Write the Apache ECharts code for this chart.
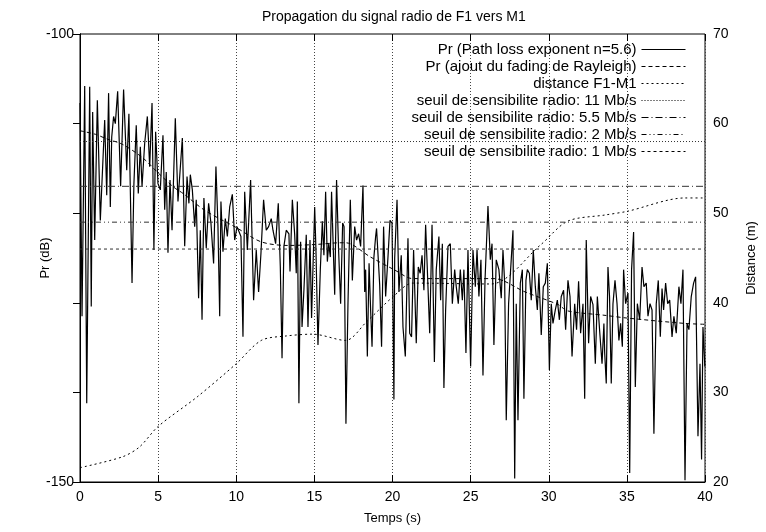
<!DOCTYPE html>
<html>
<head>
<meta charset="utf-8">
<script src="https://cdn.jsdelivr.net/npm/echarts@6/dist/echarts.min.js"></script>
<style>
html,body{margin:0;padding:0;background:#fff;}
#chart{width:766px;height:532px;}
</style>
</head>
<body>
<div id="chart"></div>
<script>
// ---- Data ----
var titleText = 'Propagation du signal radio de F1 vers M1';
var xTicks = [0, 5, 10, 15, 20, 25, 30, 35, 40];
var leftTicks = [-150, -100];
var rightTicks = [20, 30, 40, 50, 60, 70];

// Received power with Rayleigh fading [time s, dB]
var prFading = [
[0.00,-107.7],[0.13,-131.5],[0.30,-105.8],[0.43,-141.2],[0.62,-105.9],[0.72,-130.4],[0.81,-108.7],[0.94,-123.0],
[1.11,-107.4],[1.30,-120.8],[1.43,-115.6],[1.58,-109.6],[1.71,-118.0],[1.83,-106.6],[1.94,-119.3],[2.03,-111.5],
[2.15,-109.2],[2.26,-110.0],[2.41,-106.4],[2.60,-117.0],[2.79,-106.2],[2.99,-115.2],[3.13,-108.9],[3.33,-127.8],
[3.45,-116.7],[3.60,-110.2],[3.73,-117.8],[3.86,-112.6],[3.97,-117.0],[4.14,-112.2],[4.31,-109.2],[4.46,-114.8],
[4.61,-107.7],[4.73,-124.1],[4.84,-110.9],[4.99,-116.7],[5.14,-117.4],[5.31,-111.3],[5.42,-119.6],[5.52,-115.4],
[5.63,-124.4],[5.76,-116.3],[5.89,-121.9],[6.10,-109.4],[6.27,-118.7],[6.55,-111.6],[6.70,-123.7],
[6.85,-115.9],[6.97,-118.9],[7.06,-115.7],[7.19,-117.4],[7.34,-121.5],[7.44,-118.5],[7.59,-129.5],[7.70,-121.9],
[7.81,-131.9],[7.93,-118.3],[8.08,-123.9],[8.23,-118.9],[8.38,-121.1],[8.55,-125.6],[8.70,-114.8],[8.83,-121.5],
[8.94,-131.5],[9.02,-118.7],[9.15,-124.3],[9.30,-120.6],[9.43,-122.6],[9.58,-119.3],[9.75,-117.9],[9.90,-123.0],
[10.05,-121.5],[10.17,-121.7],[10.30,-122.6],[10.43,-133.8],[10.54,-117.6],[10.71,-124.1],[10.92,-116.3],[11.11,-129.7],
[11.28,-124.1],[11.43,-128.8],[11.58,-124.5],[11.75,-118.5],[11.92,-121.9],[12.07,-121.5],[12.24,-120.6],[12.35,-121.9],
[12.52,-123.4],[12.69,-118.9],[12.82,-126.0],[12.93,-136.2],[13.05,-123.7],[13.20,-121.9],[13.37,-122.3],
[13.44,-126.5],[13.59,-118.5],[13.74,-122.4],[13.84,-126.7],[13.91,-118.7],[14.01,-141.2],[14.12,-123.2],[14.21,-132.7],
[14.33,-128.6],[14.48,-122.4],[14.59,-132.7],[14.72,-123.0],[14.82,-131.7],[15.02,-119.3],[15.10,-124.1],[15.23,-134.7],
[15.38,-126.3],[15.51,-120.9],[15.61,-124.7],[15.72,-117.6],[15.83,-125.4],[15.92,-123.4],[16.02,-124.9],[16.10,-117.6],
[16.30,-129.1],[16.42,-116.3],[16.55,-124.1],[16.68,-130.1],[16.81,-121.1],[16.90,-121.5],[17.02,-143.5],[17.15,-130.1],
[17.30,-118.5],[17.43,-127.5],[17.58,-121.5],[17.70,-123.0],[17.83,-122.3],[17.96,-123.7],[18.11,-116.9],[18.22,-128.8],
[18.28,-126.3],[18.39,-136.0],[18.50,-125.6],[18.60,-130.8],[18.69,-134.9],[18.81,-124.9],[18.92,-122.6],[18.98,-121.7],
[19.18,-128.0],[19.30,-134.9],[19.43,-121.5],[19.56,-129.3],[19.71,-124.9],[19.84,-120.8],[19.97,-121.1],[20.09,-140.8],
[20.14,-125.0],[20.29,-118.5],[20.41,-128.8],[20.56,-124.7],[20.67,-132.7],[20.82,-136.0],[20.99,-122.8],[21.10,-133.4],
[21.22,-133.8],[21.35,-124.1],[21.52,-134.5],[21.65,-126.0],[21.77,-126.7],[21.89,-124.7],[22.01,-128.6],[22.12,-121.3],
[22.23,-126.3],[22.38,-133.4],[22.53,-121.3],[22.68,-136.6],[22.80,-126.3],[22.97,-122.6],[23.08,-129.7],[23.19,-123.4],
[23.29,-139.5],[23.40,-130.8],[23.55,-123.7],[23.70,-123.4],[23.83,-130.1],[23.98,-126.3],[24.08,-128.2],[24.21,-130.1],
[24.34,-126.3],[24.47,-129.7],[24.57,-126.3],[24.70,-135.6],[24.83,-124.1],[25.00,-137.1],[25.15,-124.1],[25.30,-128.2],
[25.41,-124.1],[25.53,-129.3],[25.66,-125.2],[25.79,-138.1],[25.92,-127.5],[26.11,-119.2],[26.26,-125.2],[26.37,-123.4],
[26.49,-134.7],[26.64,-125.2],[26.81,-126.3],
[26.96,-129.5],[27.07,-124.1],[27.18,-127.8],[27.28,-143.1],[27.43,-130.1],[27.56,-126.3],[27.71,-121.9],[27.82,-149.6],
[27.92,-130.1],[28.03,-143.1],[28.18,-127.8],[28.31,-126.3],[28.41,-140.7],[28.54,-127.5],[28.63,-126.3],[28.76,-126.7],
[28.88,-129.7],[29.01,-124.1],[29.14,-128.2],[29.27,-130.8],[29.37,-126.7],[29.52,-133.6],[29.65,-128.2],[29.78,-127.8],
[29.91,-125.6],[30.04,-137.5],[30.16,-130.1],[30.27,-132.3],[30.42,-130.8],[30.55,-129.7],[30.68,-131.9],[30.80,-129.3],
[30.95,-128.6],[31.08,-133.0],[31.23,-127.5],[31.36,-129.3],[31.49,-136.0],[31.66,-130.1],[31.78,-133.0],[31.91,-127.6],
[32.04,-133.4],[32.19,-130.1],[32.30,-140.7],[32.40,-123.0],[32.55,-134.5],[32.68,-129.3],[32.83,-130.2],[32.98,-136.8],
[33.11,-129.3],[33.26,-133.2],[33.41,-136.8],[33.53,-132.3],
[33.58,-135.6],[33.68,-139.0],[33.79,-126.0],[33.89,-129.3],[34.00,-139.0],[34.11,-130.1],[34.24,-127.5],[34.37,-130.1],
[34.49,-134.2],[34.60,-132.3],[34.71,-134.9],[34.79,-126.3],[34.92,-130.1],[35.07,-128.9],[35.18,-149.0],[35.30,-126.3],
[35.43,-122.1],[35.54,-139.4],[35.67,-130.1],[35.82,-131.9],[35.97,-126.0],[36.09,-128.2],[36.24,-127.8],[36.35,-131.5],
[36.48,-130.1],[36.61,-130.8],[36.73,-144.6],[36.88,-130.1],[37.01,-127.5],[37.14,-133.8],[37.25,-128.4],[37.35,-130.8],
[37.48,-127.8],[37.61,-130.1],[37.74,-129.7],[37.89,-133.8],[38.01,-131.5],[38.16,-133.4],[38.33,-128.2],[38.46,-130.1],
[38.59,-126.3],[38.72,-149.8],[38.85,-132.3],[38.97,-133.0],[39.12,-129.3],[39.27,-127.8],[39.40,-127.1],[39.55,-144.9],
[39.68,-136.8],[39.78,-147.5],[39.87,-132.7],[39.99,-137.1]
];

// Path loss curve (smooth) [time s, dB]
var prPathLossT = [0, 1, 1.7, 2.7, 4, 5, 6, 6.6, 8, 10, 11.6, 13.3, 15, 16.7, 17, 18.6, 20.1, 21.3, 26.5, 28.5, 30.6, 31.2, 33.6, 35, 38.7, 40];
var prPathLossV = [-110.8, -111.2, -111.7, -112.3, -113.8, -115.5, -117.1, -117.8, -119.7, -121.6, -123.2, -123.6, -123.5, -123.3, -123.3, -124.9, -126.3, -127.3, -127.3, -128.8, -130.2, -130.9, -131.4, -131.7, -132.3, -132.4];

// Distance F1-M1 [time s, m]
var distT = [0, 2.7, 3.8, 5, 7.5, 10, 11.6, 13.2, 14.9, 17, 18.35, 20.05, 21.3, 26.3, 29.5, 31.2, 33.6, 35, 38.7, 40];
var distV = [21.6, 22.8, 23.9, 26.2, 29.5, 33.2, 35.8, 36.3, 36.5, 35.8, 37.9, 40.7, 42.2, 42.1, 46.5, 49.1, 49.8, 50.2, 51.7, 51.7];

// Radio sensitivity thresholds (dB)
var thresholdNames = ['seuil de sensibilite radio: 11 Mb/s', 'seuil de sensibilite radio: 5.5 Mb/s', 'seuil de sensibilite radio: 2 Mb/s', 'seuil de sensibilite radio: 1 Mb/s'];
var thresholdValues = [-112, -117, -121, -124];

var seriesNames = ['Pr (Path loss exponent n=5.6)', 'Pr (ajout du fading de Rayleigh)', 'distance F1-M1'];

// ---- Chart ----
var FONT = 'Liberation Sans';
function zip(a, b) { return a.map(function (v, i) { return [v, b[i]]; }); }

var thresholdDash = [[1, 2], [7, 3, 1, 3], [5, 3, 1, 3, 1, 3], [3, 3]];
var thresholdSeries = thresholdValues.map(function (v, i) {
  return {
    name: thresholdNames[i], type: 'line', yAxisIndex: 0, symbol: 'none', silent: true,
    itemStyle: { color: '#333' },
    data: [[xTicks[0], v], [xTicks[xTicks.length - 1], v]],
    lineStyle: { color: '#333', width: 1, type: thresholdDash[i] }
  };
});

var chart = echarts.init(document.getElementById('chart'), null, { renderer: 'canvas' });
chart.setOption({
  animation: false,
  backgroundColor: '#fff',
  textStyle: { fontFamily: FONT },
  title: {
    text: titleText, left: 257, top: 5,
    textStyle: { fontFamily: FONT, fontSize: 14, fontWeight: 'normal', color: '#000' }
  },
  grid: { left: 80, right: 61, top: 34, bottom: 50, show: true, borderColor: '#000', borderWidth: 1, backgroundColor: 'transparent' },
  legend: {
    orient: 'vertical', right: 80, top: 42, align: 'right', padding: 0,
    itemWidth: 44, itemHeight: 15, itemGap: 2,
    itemStyle: { opacity: 0 },
    lineStyle: { width: 1, color: '#000' },
    textStyle: { fontFamily: FONT, fontSize: 15, color: '#000', lineHeight: 15 },
    data: seriesNames.concat(thresholdNames)
  },
  xAxis: [{
    type: 'value', min: 0, max: 40, interval: 5,
    name: 'Temps (s)', nameLocation: 'middle', nameGap: 30,
    nameTextStyle: { fontFamily: FONT, fontSize: 13, color: '#000' },
    axisLine: { show: true, lineStyle: { color: '#000' } },
    axisTick: { show: true, inside: true, length: 7, lineStyle: { color: '#000' } },
    axisLabel: { fontFamily: FONT, fontSize: 14, color: '#000', margin: 8 },
    splitLine: { show: true, lineStyle: { color: '#444', width: 1, type: [1, 2] } }
  }, {
    type: 'value', min: 0, max: 40, interval: 5, position: 'top',
    axisLine: { show: false },
    axisTick: { show: true, inside: true, length: 7, lineStyle: { color: '#000' } },
    axisLabel: { show: false }, splitLine: { show: false }
  }],
  yAxis: [{
    type: 'value', min: -150, max: -100, interval: 50, position: 'left',
    name: 'Pr (dB)', nameLocation: 'middle', nameGap: 28, nameRotate: 90, nameMoveOverlap: false,
    nameTextStyle: { fontFamily: FONT, fontSize: 13, color: '#000' },
    axisLine: { show: true, lineStyle: { color: '#000' } },
    axisTick: { show: false },
    axisLabel: { fontFamily: FONT, fontSize: 14, color: '#000', margin: 6 },
    splitLine: { show: false }
  }, {
    type: 'value', min: 20, max: 70, interval: 10, position: 'right',
    name: 'Distance (m)', nameLocation: 'middle', nameGap: 40, nameRotate: 90,
    nameTextStyle: { fontFamily: FONT, fontSize: 13, color: '#000' },
    axisLine: { show: true, lineStyle: { color: '#000' } },
    axisTick: { show: true, inside: true, length: 7, lineStyle: { color: '#000' } },
    axisLabel: { fontFamily: FONT, fontSize: 14, color: '#000', margin: 8 },
    splitLine: { show: false }
  }],
  series: [{
    name: seriesNames[0], type: 'line', yAxisIndex: 0, symbol: 'none', silent: true,
    itemStyle: { color: '#000' },
    data: prFading, lineStyle: { color: '#000', width: 1.2, type: 'solid' }
  }, {
    name: seriesNames[1], type: 'line', yAxisIndex: 0, symbol: 'none', silent: true, smooth: 0.3,
    itemStyle: { color: '#000' },
    data: zip(prPathLossT, prPathLossV), lineStyle: { color: '#000', width: 1, type: [4, 3] }
  }, {
    name: seriesNames[2], type: 'line', yAxisIndex: 1, symbol: 'none', silent: true, smooth: 0.3,
    itemStyle: { color: '#000' },
    data: zip(distT, distV), lineStyle: { color: '#000', width: 1, type: [2, 3] }
  }].concat(thresholdSeries)
});
</script>
</body>
</html>
